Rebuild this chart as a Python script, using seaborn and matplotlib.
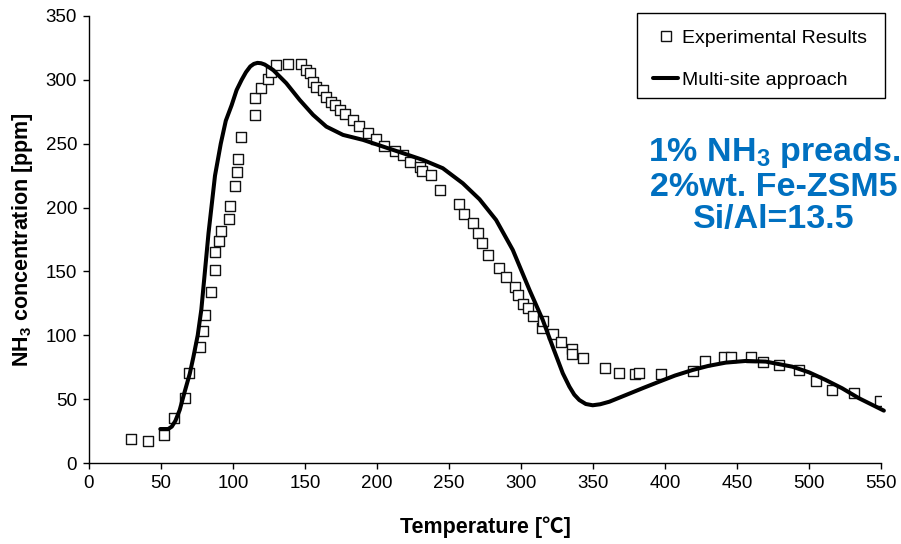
import matplotlib
matplotlib.use("Agg")
import matplotlib.pyplot as plt
from matplotlib.lines import Line2D
from matplotlib.patches import Rectangle
import seaborn as sns
import pandas as pd

# ---- Data -------------------------------------------------------------
exp_temp = [29, 41, 52, 58.7, 67, 69.4, 77, 79.1, 80.5, 84.8, 87.6, 87.6, 90.4, 92,
            97.3, 98.2, 101.7, 102.9, 103.8, 105.4, 115.6, 115.6, 119.3, 124.4, 126.2,
            130.2, 138.2, 147.5, 150.9, 153.3, 155.6, 157.9, 162.5, 164.8, 168.3, 170.6,
            174, 177.6, 183, 187.5, 193.5, 199.3, 204.6, 212.7, 218.2, 222.6, 230, 231.4,
            237.6, 243.9, 256.8, 260.3, 266.8, 270, 272.8, 277.2, 284.6, 289.9, 295.5,
            298.2, 301.7, 304.7, 308.2, 314.5, 315.5, 322, 327.8, 335.2, 335.2, 342.8,
            358, 368.3, 378.9, 381.9, 396.9, 419.4, 427.7, 441.1, 445.5, 460, 468.1,
            479, 493.1, 504.9, 515.8, 531, 549.1]
exp_nh3 = [19, 17.5, 22, 35.5, 51, 70.5, 90.6, 103, 116, 134, 151, 165, 174, 181.5,
           191.4, 201.6, 216.7, 227.7, 238, 255, 272.6, 285.6, 294, 300.8, 306.5,
           311.7, 312.3, 312.3, 307.8, 305.2, 298.6, 294.7, 292.2, 286.9, 283, 280.4,
           276.5, 273.5, 268.5, 264, 258.2, 253.5, 248, 244.4, 241, 235.5, 231.8, 228.5,
           225.3, 213.6, 202.6, 195.3, 187.7, 180.2, 172.6, 163, 152.7, 145.7, 137.6,
           131.6, 124.5, 121.6, 115.4, 105.5, 111, 101.3, 95, 89.5, 85, 82,
           74.5, 70.7, 69.9, 70.5, 69.5, 72.1, 79.9, 83.3, 83, 82.8, 79.3,
           76.8, 72.6, 64.2, 57.2, 55.1, 48.6]

model_temp = [49.5, 55, 57.5, 60, 63, 66, 70, 72.5, 75.5, 78, 80.5, 83, 85, 87.5, 91.5,
              95, 99, 102.5, 106, 109, 112, 114.5, 117, 119.5, 122, 127.8, 137, 146.3,
              155.6, 164.8, 176.4, 190.3, 204.1, 218, 231.9, 245.7, 259.6, 271.2, 282.7,
              294.3, 305.9, 315.1, 322, 329, 333.6, 337, 340.5, 345, 349.8, 355, 361.4,
              373, 385, 396, 407, 419.1, 430, 442.2, 456.1, 470, 488.5, 500, 511.6,
              523, 534.7, 552]
model_nh3 = [26.6, 26.6, 28.5, 33, 41.5, 54, 70, 83, 100, 120, 150, 180, 200, 225, 250,
             268, 280, 292, 300, 306, 310.5, 312.5, 313.3, 313, 312, 307.8, 297.4, 284.3,
             272.6, 263.4, 256.9, 253, 247.8, 242.6, 237.3, 230.8, 219, 206.5, 190.3,
             166.8, 135.5, 112, 91.1, 70.3, 59.8, 53.5, 49.3, 46.2, 45.2, 46, 48,
             53.3, 58.8, 63.7, 68.5, 72.8, 76, 78.6, 79.9, 79.4, 75.4, 71, 65,
             58.5, 50.7, 41]

x_ticks = list(range(0, 551, 50))
y_ticks = list(range(0, 351, 50))

exp_df = pd.DataFrame({"T": exp_temp, "c": exp_nh3})
mod_df = pd.DataFrame({"T": model_temp, "c": model_nh3})

# ---- Style ------------------------------------------------------------
sns.set_theme(style="white")
plt.rcParams["font.family"] = ["Liberation Sans", "DejaVu Sans"]
plt.rcParams["mathtext.fontset"] = "custom"
plt.rcParams["mathtext.rm"] = "Liberation Sans"
plt.rcParams["mathtext.bf"] = "Liberation Sans:bold"
for key in ["text.color", "axes.labelcolor", "xtick.color", "ytick.color",
            "axes.edgecolor"]:
    plt.rcParams[key] = "black"

W, H = 901, 544
fig = plt.figure(figsize=(W / 100, H / 100), dpi=100)
ax = fig.add_axes([89 / W, 1 - 463 / H, 792 / W, 447 / H])

sns.scatterplot(data=exp_df, x="T", y="c", ax=ax, marker="s", s=46,
                facecolor="white", edgecolor="#111111", linewidth=1.0,
                zorder=3, legend=False)
sns.lineplot(data=mod_df, x="T", y="c", ax=ax, sort=False, estimator=None,
             color="black", linewidth=2.9, zorder=4, legend=False)
for ln in ax.lines:
    ln.set_clip_on(False)
    ln.set_solid_joinstyle("round")

ax.set_xlim(0, 550)
ax.set_ylim(0, 350)
ax.set_xticks(x_ticks)
ax.set_yticks(y_ticks)
ax.tick_params(axis="both", direction="out", length=4.5, width=1, color="black",
               labelcolor="black", labelsize=13.5, pad=4, bottom=True, left=True)
for side in ["top", "right"]:
    ax.spines[side].set_visible(False)
for side in ["left", "bottom"]:
    ax.spines[side].set_color("black")
    ax.spines[side].set_linewidth(1)

ax.set_xlabel("Temperature [℃]", fontsize=15.5, fontweight="bold", color="black",
              family=["Liberation Sans", "Noto Sans CJK SC", "DejaVu Sans"])
ax.set_ylabel(r"NH$_\mathbf{3}$ concentration [ppm]", fontsize=15.5,
              fontweight="bold", color="black")
ax.xaxis.set_label_coords(0.5, (463 - 516) / 447)
ax.yaxis.set_label_coords((35 - 89) / 792, 0.5)

# Legend frame (drawn separately so that its padding matches the original)
frame = Rectangle((637 / W, 1 - 98 / H), (885 - 637) / W, (98 - 13) / H,
                  transform=fig.transFigure, facecolor="white", edgecolor="black",
                  linewidth=1.0, clip_on=False, zorder=4.5)
ax.add_patch(frame)

handles = [
    Line2D([], [], linestyle="none", marker="s", markersize=7,
           markerfacecolor="white", markeredgecolor="#111111", markeredgewidth=1.0),
    Line2D([], [], color="black", linewidth=2.9),
]
leg = ax.legend(handles, ["Experimental Results", "Multi-site approach"],
                loc="upper left", bbox_to_anchor=(653 / W, 1 - 29 / H),
                bbox_transform=fig.transFigure, borderaxespad=0, borderpad=0,
                fontsize=14, handlelength=1.3, handletextpad=0.2,
                labelspacing=1.28, frameon=False)
leg.set_zorder(6)
for t in leg.get_texts():
    t.set_color("black")

fig.text(774 / W, 1 - 185 / H,
         "1% NH$_\\mathbf{3}$ preads.\n2%wt. Fe-ZSM5\nSi/Al=13.5",
         ha="center", va="center", multialignment="center",
         fontsize=24.5, fontweight="bold", color="#0070C0", linespacing=1.08)

fig.savefig("out.png", dpi=100)
